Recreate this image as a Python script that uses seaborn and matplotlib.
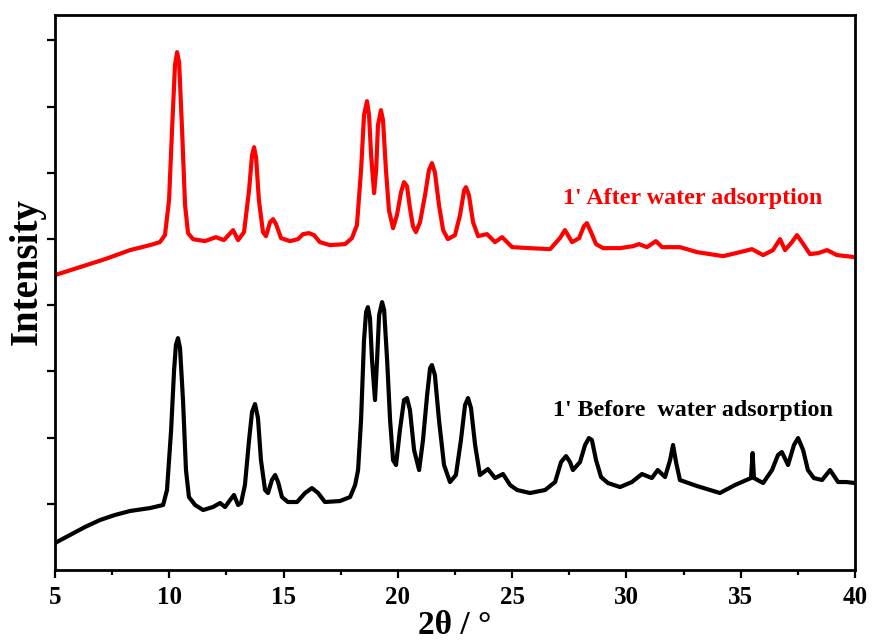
import numpy as np
import pandas as pd
import matplotlib
matplotlib.use("Agg")
import matplotlib.pyplot as plt
import seaborn as sns
from matplotlib.ticker import MultipleLocator

# ---- data (2theta in degrees, intensity in a.u.) ----
after_2theta = [5.0, 6.09, 7.19, 8.28, 9.16, 9.59, 9.81, 9.99, 10.12, 10.25, 10.34, 10.43,
                10.56, 10.69, 10.82, 11.04, 11.56, 12.04, 12.39, 12.79, 13.01, 13.27, 13.49,
                13.62, 13.71, 13.80, 13.92, 14.10, 14.23, 14.41, 14.54, 14.67, 14.89, 15.28,
                15.63, 15.85, 16.11, 16.33, 16.59, 17.03, 17.69, 17.99, 18.21, 18.39, 18.52,
                18.65, 18.74, 18.83, 18.96, 19.05, 19.13, 19.26, 19.35, 19.48, 19.61, 19.79,
                19.96, 20.14, 20.27, 20.40, 20.53, 20.66, 20.79, 20.97, 21.19, 21.36, 21.49,
                21.62, 21.80, 21.98, 22.19, 22.50, 22.72, 22.90, 22.98, 23.11, 23.29, 23.51,
                23.90, 24.25, 24.56, 25.00, 25.78, 26.66, 27.09, 27.31, 27.44, 27.62, 27.93,
                28.14, 28.27, 28.45, 28.67, 28.98, 29.72, 30.29, 30.55, 30.90, 31.29, 31.56,
                32.34, 33.09, 34.23, 34.97, 35.49, 35.98, 36.41, 36.72, 36.94, 37.24, 37.46,
                37.68, 38.03, 38.38, 38.78, 39.21, 40.0]
after_intensity = [4455, 4575, 4696, 4832, 4908, 4953, 5059, 5587, 6644, 7626, 7822, 7671,
                   6644, 5512, 5089, 4998, 4968, 5028, 4983, 5134, 4983, 5104, 5738,
                   6267, 6387, 6221, 5587, 5104, 5043, 5255, 5300, 5225, 5013, 4968,
                   4998, 5074, 5089, 5059, 4953, 4908, 4923, 5013, 5210, 6040, 6871,
                   7082, 6871, 6267, 5693, 6040, 6720, 6946, 6795, 6040, 5436, 5164,
                   5361, 5708, 5859, 5798, 5466, 5194, 5104, 5255, 5663, 6040, 6146,
                   6010, 5512, 5134, 4998, 5059, 5361, 5738, 5783, 5663, 5255, 5043,
                   5074, 4953, 5028, 4877, 4862, 4847, 5013, 5134, 5059, 4953, 5013,
                   5194, 5240, 5104, 4923, 4862, 4862, 4892, 4923, 4877, 4968, 4877,
                   4877, 4802, 4741, 4802, 4847, 4757, 4832, 4998, 4832, 4953, 5059,
                   4953, 4772, 4787, 4832, 4757, 4726]

before_2theta = [5.0, 5.66, 6.31, 6.97, 7.62, 8.28, 9.16, 9.73, 9.90, 10.08, 10.21, 10.29,
                 10.38, 10.47, 10.60, 10.73, 10.86, 11.13, 11.48, 11.91, 12.22, 12.44, 12.66,
                 12.83, 13.01, 13.14, 13.31, 13.49, 13.62, 13.75, 13.88, 14.01, 14.19, 14.32,
                 14.49, 14.63, 14.76, 14.93, 15.19, 15.59, 15.94, 16.24, 16.51, 16.81, 17.47,
                 17.91, 18.13, 18.26, 18.39, 18.52, 18.61, 18.69, 18.78, 18.87, 19.00, 19.09,
                 19.18, 19.31, 19.40, 19.53, 19.66, 19.79, 19.92, 20.09, 20.27, 20.40, 20.53,
                 20.71, 20.93, 21.10, 21.28, 21.41, 21.49, 21.62, 21.80, 22.02, 22.28, 22.54,
                 22.76, 22.94, 23.07, 23.20, 23.38, 23.59, 23.94, 24.25, 24.60, 24.91, 25.22,
                 25.78, 26.44, 26.88, 27.14, 27.36, 27.53, 27.66, 27.97, 28.19, 28.36, 28.49,
                 28.67, 28.89, 29.19, 29.72, 30.24, 30.68, 31.11, 31.37, 31.69, 31.91, 32.04,
                 32.17, 32.34, 33.09, 34.09, 34.75, 35.45, 35.52, 35.58, 35.98, 36.37, 36.63,
                 36.80, 37.07, 37.33, 37.51, 37.73, 37.94, 38.20, 38.56, 38.91, 39.26, 39.61,
                 40.0]
before_intensity = [408, 529, 649, 755, 831, 891, 936, 982, 1208, 2114, 3020, 3398,
                    3503, 3352, 2567, 1510, 1102, 982, 906, 951, 1012, 951, 1057,
                    1133, 982, 1012, 1284, 1963, 2386, 2507, 2295, 1661, 1208, 1163,
                    1359, 1435, 1329, 1102, 1027, 1027, 1163, 1238, 1163, 1027, 1042,
                    1102, 1284, 1510, 2265, 3473, 3896, 3971, 3805, 3171, 2567, 3171,
                    3851, 4047, 3926, 3171, 2265, 1661, 1586, 2114, 2567, 2597, 2416,
                    1812, 1510, 1963, 2643, 3050, 3096, 2945, 2265, 1586, 1329, 1435,
                    1963, 2492, 2597, 2446, 1888, 1435, 1525, 1389, 1450, 1284, 1208,
                    1163, 1208, 1329, 1631, 1721, 1631, 1510, 1631, 1888, 1993, 1963,
                    1661, 1404, 1314, 1253, 1329, 1450, 1389, 1510, 1404, 1661, 1888,
                    1631, 1359, 1268, 1163, 1284, 1389, 1767, 1389, 1314, 1510, 1737,
                    1782, 1586, 1888, 1993, 1812, 1510, 1389, 1359, 1510, 1329, 1329,
                    1314]

x_ticks = [5, 10, 15, 20, 25, 30, 35, 40]
y_ticks = [1000, 2000, 3000, 4000, 5000, 6000, 7000, 8000]
label_after = "1' After water adsorption"
label_before = "1' Before  water adsorption"

df = pd.concat([
    pd.DataFrame({"two_theta": after_2theta, "intensity": after_intensity, "sample": "after"}),
    pd.DataFrame({"two_theta": before_2theta, "intensity": before_intensity, "sample": "before"}),
])

sns.set_style("ticks")
plt.rcParams["font.family"] = ["Liberation Serif", "DejaVu Serif"]
plt.rcParams["font.weight"] = "bold"
plt.rcParams["text.color"] = "black"
plt.rcParams["axes.labelcolor"] = "black"
plt.rcParams["xtick.color"] = "black"
plt.rcParams["ytick.color"] = "black"

fig = plt.figure(figsize=(8.72, 6.4), dpi=100)
ax = fig.add_axes([55 / 872, 1 - 570 / 640, 800 / 872, 555 / 640])

sns.lineplot(data=df, x="two_theta", y="intensity", hue="sample",
             palette={"after": "#ff0000", "before": "#000000"},
             linewidth=3.0, legend=False, ax=ax, sort=False, estimator=None)
for line in ax.get_lines():
    line.set_solid_joinstyle("round")
    line.set_solid_capstyle("round")

ax.set_xlim(5, 40)
ax.set_ylim(0, 8384)
ax.set_xticks(x_ticks)
ax.set_xticklabels([str(t) for t in x_ticks])
ax.xaxis.set_minor_locator(MultipleLocator(2.5))
ax.set_yticks(y_ticks)
ax.set_yticklabels([])

for sp in ax.spines.values():
    sp.set_linewidth(2.0)
    sp.set_color("black")

ax.tick_params(axis="both", which="major", direction="out", length=5.5, width=1.6,
               color="black", labelcolor="black", labelsize=18, pad=6)
ax.tick_params(axis="x", which="minor", direction="out", length=3.5, width=1.6, color="black")
for lab in ax.get_xticklabels():
    lab.set_fontweight("bold")

ax.set_xlabel("2θ / °", fontsize=24, fontweight="bold", color="black", labelpad=1)
ax.set_ylabel("Intensity", fontsize=28, fontweight="bold", color="black")
ax.yaxis.set_label_coords(-0.012, 0.537)

ax.text(27.22, 5617, label_after, color="#ff0000", fontsize=17.3, fontweight="bold",
        ha="left", va="center")
ax.text(26.79, 2416, label_before, color="black", fontsize=17.3, fontweight="bold",
        ha="left", va="center")

fig.savefig("out.png", dpi=100)
